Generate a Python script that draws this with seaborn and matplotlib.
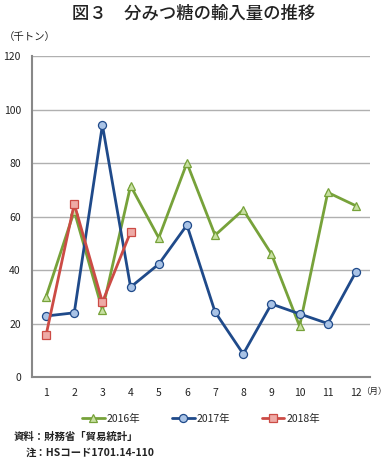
import matplotlib
matplotlib.use("Agg")
import matplotlib.pyplot as plt
import seaborn as sns
import pandas as pd
import numpy as np

months = list(range(1, 13))
month_labels = [str(m) for m in months]
v2016 = [30, 62, 25, 71.5, 52, 80, 53, 62.5, 46, 19, 69, 64]
v2017 = [22.8, 24, 94.2, 33.6, 42.2, 56.8, 24.3, 8.6, 27.3, 23.6, 20, 39.3]
v2018 = [15.7, 64.7, 28, 54.2]
series_names = ["2016年", "2017年", "2018年"]

sns.set_theme(style="white")
plt.rcParams['font.family'] = ['Noto Sans CJK JP', 'DejaVu Sans']

rows = []
for name, vals in zip(series_names, [v2016, v2017, v2018]):
    for m, v in zip(months, vals):
        rows.append({"月": m, "値": v, "年": name})
df = pd.DataFrame(rows)

line_colors = {"2016年": "#77a23a", "2017年": "#1f4a8a", "2018年": "#cc4b45"}
face_colors = {"2016年": "#c8e0a2", "2017年": "#a9c3e6", "2018年": "#eeaaa6"}
markers = {"2016年": "^", "2017年": "o", "2018年": "s"}

fig = plt.figure(figsize=(3.87, 4.59), dpi=100)
ax = fig.add_axes([32/387, 1-377/459, (370-32)/387, (377-56)/459])

for name in series_names:
    sub = df[df["年"] == name]
    sns.lineplot(data=sub, x="月", y="値", ax=ax, color=line_colors[name],
                 linewidth=2, marker=markers[name], markersize=5.8,
                 markerfacecolor=face_colors[name], markeredgecolor=line_colors[name],
                 markeredgewidth=0.9, label=name, zorder=3)

ax.set_xlim(0.5, 12.5)
ax.set_ylim(0, 120)
ax.set_yticks(np.arange(0, 121, 20))
ax.set_xticks(months)
ax.set_xticklabels(month_labels)
ax.set_xticks(np.arange(0.5, 12.6, 1), minor=True)
ax.tick_params(axis='x', which='major', length=0, labelsize=7.5, pad=8, colors='#222222')
ax.tick_params(axis='x', which='minor', length=4, width=1, color='#888888', direction='out')
ax.tick_params(axis='y', which='major', length=4, width=1, color='#888888', direction='out',
               labelsize=7.5, colors='#222222', pad=4)
ax.tick_params(axis='y', colors='#888888', labelcolor='#222222')
ax.set_xlabel("")
ax.set_ylabel("")
ax.yaxis.grid(True, color='#b0b0b0', linewidth=1)
ax.xaxis.grid(False)
for s in ["top", "right"]:
    ax.spines[s].set_visible(False)
for s in ["left", "bottom"]:
    ax.spines[s].set_color('#888888')
    ax.spines[s].set_linewidth(1.5)

leg = ax.legend(loc='upper center', bbox_to_anchor=(0.5, -0.085), ncol=3, frameon=False,
                fontsize=7.5, handlelength=2.2, columnspacing=3.0, handletextpad=0.2)

fig.text(0.5, 1-14/459, "図３　分みつ糖の輸入量の推移", ha='center', va='center',
         fontsize=12.5, fontweight='medium', color='#222222')
fig.text(4/387, 1-37/459, "（千トン）", ha='left', va='center', fontsize=7.5, color='#222222')
fig.text(387/387, 1-391/459, "（月）", ha='right', va='center', fontsize=6.1, color='#222222')
fig.text(14/387, 1-437/459, "資料：財務省「貿易統計」", ha='left', va='center', fontsize=7.5,
         fontweight='bold', color='#222222')
fig.text(26/387, 1-453/459, "注：HSコード1701.14-110", ha='left', va='center', fontsize=7.5,
         fontweight='bold', color='#222222')

fig.savefig("out.png", dpi=100)
